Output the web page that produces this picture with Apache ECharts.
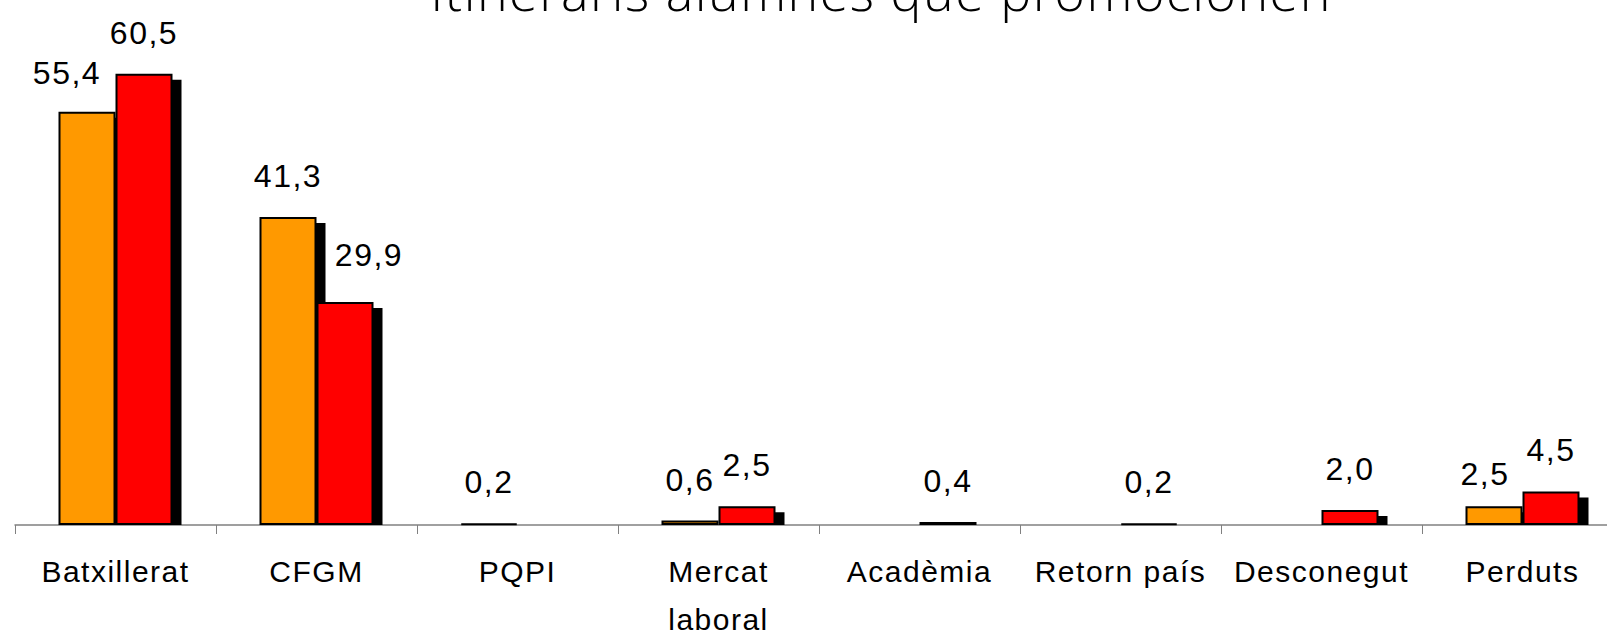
<!DOCTYPE html>
<html>
<head>
<meta charset="utf-8">
<script src="https://cdn.jsdelivr.net/npm/echarts@6/dist/echarts.min.js"></script>
<style>
  html, body { margin: 0; padding: 0; background: #fff; }
  #chart { width: 1607px; height: 633px; letter-spacing: 1.5px; }
</style>
</head>
<body>
<div id="chart"></div>
<script>
// ---- Data ----
const titleText = 'Itineraris alumnes que promocionen';
const categories = ['Batxillerat', 'CFGM', 'PQPI', 'Mercat\nlaboral', 'Acadèmia', 'Retorn país', 'Desconegut', 'Perduts'];
const orangeValues = [55.4, 41.3, 0.2, 0.6, null, null, null, 2.5];
const redValues = [60.5, 29.9, null, 2.5, 0.4, 0.2, 2.0, 4.5];

// ---- Styling (label nudges for a few labels, by category index) ----
const orangeLabelNudge = { 0: [-20, 2], 7: [-9, 9] };
const redLabelNudge = { 1: [24, -6] };

const BAR_W = 57;
const SHADOW_DX = 9, SHADOW_DY = 6;
const FONT = '"Liberation Sans", Arial, sans-serif';

function fmt(v) { return v.toFixed(1).replace('.', ','); }

function barData(values, nudges) {
  return values.map((v, i) => {
    if (v == null) return null;
    const item = { value: v };
    if (nudges[i]) item.label = { offset: nudges[i] };
    return item;
  });
}

function shadowData(values) {
  return values.map((v, i) => [i, v == null ? null : v]);
}

function shadowSeries(values, side, z) {
  return {
    type: 'custom',
    z: z,
    silent: true,
    data: shadowData(values),
    encode: { x: 0, y: 1 },
    renderItem: function (params, api) {
      const v = api.value(1);
      if (v == null || isNaN(v)) return null;
      const idx = api.value(0);
      const top = api.coord([idx, v]);
      const base = api.coord([idx, 0]);
      const center = top[0];
      const left = side < 0 ? center - BAR_W : center;
      const x = left + SHADOW_DX;
      const y = top[1] + SHADOW_DY;
      const h = base[1] - y;
      if (h <= 0) return null;
      return {
        type: 'rect',
        shape: { x: x, y: y, width: BAR_W, height: h },
        style: { fill: '#000' }
      };
    }
  };
}

const labelCommon = {
  show: true,
  position: 'top',
  distance: 25,
  color: '#000',
  fontFamily: FONT,
  fontSize: 32,
  formatter: p => fmt(p.value)
};

const chart = echarts.init(document.getElementById('chart'), null, { renderer: 'svg' });
chart.setOption({
  animation: false,
  backgroundColor: '#fff',
  title: {
    text: titleText,
    left: 876,
    top: -41,
    textAlign: 'center',
    textStyle: { fontFamily: '"Open Sans", sans-serif', fontWeight: 300, fontSize: 52, color: '#000' }
  },
  grid: { left: 15, top: 3, width: 1608, bottom: 108, containLabel: false, outerBoundsMode: 'none' },
  xAxis: {
    type: 'category',
    data: categories,
    axisLine: { lineStyle: { color: '#808080', width: 1.5 } },
    axisTick: { show: true, length: 9, lineStyle: { color: '#808080', width: 1 } },
    axisLabel: { interval: 0, margin: 22, color: '#000', fontFamily: FONT, fontSize: 30, lineHeight: 48 }
  },
  yAxis: { type: 'value', min: 0, max: 70, show: false, splitLine: { show: false } },
  series: [
    shadowSeries(orangeValues, -1, 1),
    shadowSeries(redValues, 1, 1),
    {
      type: 'bar', name: 'orange', z: 3,
      data: barData(orangeValues, orangeLabelNudge),
      barWidth: BAR_W, barGap: '0%',
      itemStyle: { color: '#FF9900', borderColor: '#000', borderWidth: 2 },
      label: labelCommon
    },
    {
      type: 'bar', name: 'red', z: 3,
      data: barData(redValues, redLabelNudge),
      barWidth: BAR_W, barGap: '0%',
      itemStyle: { color: '#FF0000', borderColor: '#000', borderWidth: 2 },
      label: labelCommon
    }
  ]
});
</script>
</body>
</html>
